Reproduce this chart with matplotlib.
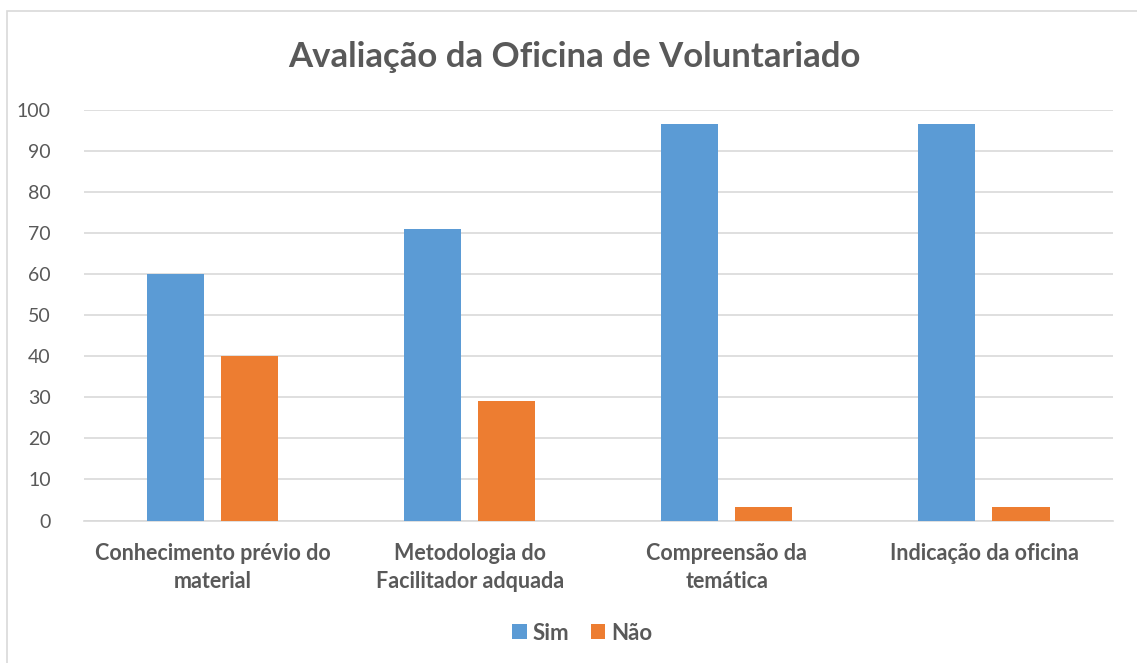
import matplotlib.pyplot as plt
import numpy as np
from matplotlib.patches import Rectangle

# dados
categorias = ["Conhecimento prévio do\nmaterial", "Metodologia do\nFacilitador adquada",
              "Compreensão da\ntemática", "Indicação da oficina"]
sim = [60, 71, 96.7, 96.7]
nao = [40, 29, 3.3, 3.3]
yticks = list(range(0, 101, 10))

azul = "#5B9BD5"
laranja = "#ED7D31"
cinza = "#595959"

plt.rcParams['font.family'] = ['Lato', 'DejaVu Sans']

fig = plt.figure(figsize=(11.37, 6.63), dpi=100)
# moldura do gráfico
fig.patches.append(Rectangle((7 / 1137, -0.05), 1.1, 0.05 + 652 / 663, transform=fig.transFigure,
                             fill=False, edgecolor="#D9D9D9", linewidth=1.2))

ax = fig.add_axes([84 / 1137, 1 - 520.5 / 663, (1112.5 - 84) / 1137, 410.5 / 663])

x = np.arange(len(categorias))
w = 0.222
ax.bar(x - 0.144, sim, width=w, color=azul, label="Sim", zorder=3)
ax.bar(x + 0.144, nao, width=w, color=laranja, label="Não", zorder=3)

ax.set_xlim(-0.5, len(categorias) - 0.5)
ax.set_ylim(0, 100)
ax.set_yticks(yticks)
ax.yaxis.grid(True, color="#D9D9D9", linewidth=1.2, zorder=0)
ax.set_axisbelow(True)
for s in ["top", "right", "left"]:
    ax.spines[s].set_visible(False)
ax.spines["bottom"].set_color("#D9D9D9")
ax.spines["bottom"].set_linewidth(1.2)
ax.tick_params(axis="y", length=0, pad=24, labelsize=14, labelcolor=cinza)
ax.tick_params(axis="x", length=0, pad=16, labelsize=15.5, labelcolor=cinza)
ax.set_xticks(x)
ax.set_xticklabels(categorias, fontweight="bold", linespacing=1.45)

fig.text(0.505, 1 - 57 / 663, "Avaliação da Oficina de Voluntariado", ha="center", va="center",
         fontsize=25, fontweight="bold", color=cinza)

leg = fig.legend(loc="center", bbox_to_anchor=(0.512, 1 - 633 / 663), ncol=2, frameon=False,
                 handlelength=0.65, handleheight=0.65, handletextpad=0.25, columnspacing=1.0,
                 prop={"size": 16, "weight": "bold"})
for t in leg.get_texts():
    t.set_color(cinza)

fig.savefig("out.png", dpi=100)
